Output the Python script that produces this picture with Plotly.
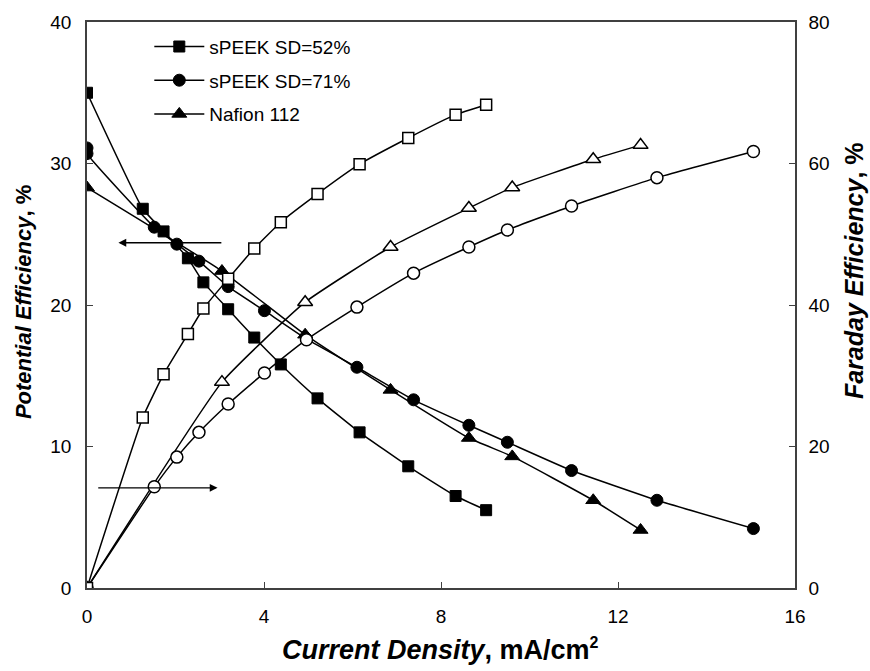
import plotly.graph_objects as go

# ---- data ----
names = ["sPEEK SD=52%", "sPEEK SD=71%", "Nafion 112"]

sd52_cd = [0, 1.26, 1.73, 2.28, 2.63, 3.19, 3.78, 4.38, 5.21, 6.16, 7.26, 8.33, 9.02]
sd52_pe = [35.0, 26.8, 25.2, 23.3, 21.6, 19.7, 17.7, 15.8, 13.4, 11.0, 8.6, 6.5, 5.5]
sd52_fe = [0, 24.1, 30.2, 35.9, 39.5, 43.7, 48.0, 51.7, 55.7, 59.9, 63.6, 66.9, 68.3]

sd71_cd_pe = [0, 0, 1.52, 2.03, 2.53, 3.19, 4.01, 4.96, 6.10, 7.38, 8.63, 9.50, 10.95, 12.88, 15.06]
sd71_pe = [31.1, 30.7, 25.5, 24.3, 23.1, 21.3, 19.6, 17.6, 15.6, 13.3, 11.5, 10.3, 8.3, 6.2, 4.2]
sd71_cd_fe = [0, 1.52, 2.03, 2.53, 3.19, 4.01, 4.96, 6.10, 7.38, 8.63, 9.50, 10.95, 12.88, 15.06]
sd71_fe = [0, 14.3, 18.5, 22.0, 26.0, 30.4, 35.1, 39.7, 44.5, 48.2, 50.6, 54.0, 58.0, 61.7]

naf_cd = [0, 3.05, 4.93, 6.86, 8.63, 9.61, 11.44, 12.51]
naf_pe = [28.3, 22.4, 17.9, 14.0, 10.6, 9.3, 6.2, 4.1]
naf_fe = [0, 29.1, 40.4, 48.2, 53.7, 56.6, 60.6, 62.6]

x_ticks = [0, 4, 8, 12, 16]
y_left_ticks = [0, 10, 20, 30, 40]
y_right_ticks = [0, 20, 40, 60, 80]

x_title = ("<b><i>Current Density</i>, mA/cm</b>"
           "<sup><b><span style='font-size:16px'>2</span></b></sup>")
y_left_title = "<b><i>Potential Efficiency</i>, %</b>"
y_right_title = "<b><i>Faraday Efficiency</i>, %</b>"

# arrows: (y level on left axis, tail x, head x)
arrow_left = (24.4, 3.07, 0.71)
arrow_right = (7.08, 0.22, 2.95)

FONT = "Liberation Sans, Arial, sans-serif"

fig = go.Figure()

def pe_trace(x, y, name, symbol, size, grp):
    return go.Scatter(x=x, y=y, name=name, mode="lines+markers", legendgroup=grp,
                      line=dict(color="black", width=1.5, shape="spline", smoothing=0.4),
                      marker=dict(symbol=symbol, size=size, color="black",
                                  line=dict(color="black", width=1)),
                      yaxis="y", showlegend=True)

def fe_trace(x, y, name, symbol, size, grp):
    return go.Scatter(x=x, y=y, name=name, mode="lines+markers", legendgroup=grp,
                      line=dict(color="black", width=1.5, shape="spline", smoothing=0.4),
                      marker=dict(symbol=symbol, size=size, color="white",
                                  line=dict(color="black", width=1.5)),
                      yaxis="y2", showlegend=False)

fig.add_trace(pe_trace(sd52_cd, sd52_pe, names[0], "square", 11, "g1"))
fig.add_trace(pe_trace(sd71_cd_pe, sd71_pe, names[1], "circle", 12, "g2"))
fig.add_trace(pe_trace(naf_cd, naf_pe, names[2], "triangle-up", 13, "g3"))
fig.add_trace(fe_trace(naf_cd, naf_fe, names[2] + " FE", "triangle-up", 13, "g3"))
fig.add_trace(fe_trace(sd71_cd_fe, sd71_fe, names[1] + " FE", "circle", 12, "g2"))
fig.add_trace(fe_trace(sd52_cd, sd52_fe, names[0] + " FE", "square", 11, "g1"))

for (yv, xt, xh) in (arrow_left, arrow_right):
    fig.add_annotation(x=xh, y=yv, ax=xt, ay=yv, xref="x", yref="y", axref="x", ayref="y",
                       showarrow=True, arrowhead=2, arrowsize=1.2, arrowwidth=1.3,
                       arrowcolor="black", text="")

# axis titles placed as free text
fig.add_annotation(text=x_title, xref="paper", yref="paper", x=0.499, y=-0.108,
                   xanchor="center", yanchor="middle",
                   showarrow=False, font=dict(family=FONT, size=27, color="black"))
fig.add_annotation(text=y_left_title, xref="paper", yref="paper", x=-0.0905, y=0.505,
                   xanchor="center", yanchor="middle",
                   textangle=-90, showarrow=False, font=dict(family=FONT, size=22, color="black"))
fig.add_annotation(text=y_right_title, xref="paper", yref="paper", x=1.0834, y=0.56,
                   xanchor="center", yanchor="middle",
                   textangle=-90, showarrow=False, font=dict(family=FONT, size=25, color="black"))

axis_common = dict(showline=True, linecolor="#404040", linewidth=1.5, ticks="inside",
                   ticklen=6, tickcolor="#404040", tickwidth=1, showgrid=False,
                   zeroline=False, tickfont=dict(family=FONT, size=19, color="black"))

fig.update_layout(
    width=870, height=671,
    margin=dict(l=87, r=75, t=16, b=83),
    paper_bgcolor="white", plot_bgcolor="white",
    font=dict(family=FONT, size=19, color="black"),
    xaxis=dict(range=[0, 16], tickvals=x_ticks, mirror=True, ticklabelstandoff=10,
               **axis_common),
    yaxis=dict(range=[0, 40], tickvals=y_left_ticks, ticklabelstandoff=10, **axis_common),
    yaxis2=dict(range=[0, 80], tickvals=y_right_ticks, overlaying="y", side="right",
                ticklabelstandoff=8, **axis_common),
    legend=dict(x=0.088, y=0.99, xanchor="left", yanchor="top",
                bgcolor="rgba(0,0,0,0)", font=dict(family=FONT, size=19),
                itemwidth=50, tracegroupgap=6),
    showlegend=True,
)

fig.write_html("out.html")
